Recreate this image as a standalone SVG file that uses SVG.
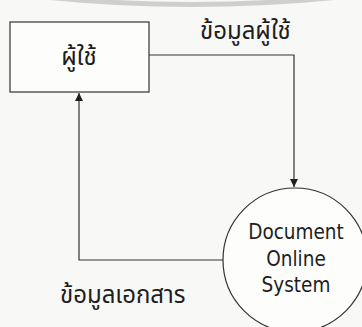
<svg xmlns="http://www.w3.org/2000/svg" width="362" height="327" viewBox="0 0 362 327">
<style>
.bg{fill:#f8f8f6}
.shape{fill:#fdfdfc;stroke:#333;stroke-width:1.2}
.conn{fill:none;stroke:#333;stroke-width:1.2}
.th{font-family:"Noto Sans Thai","Noto Sans","DejaVu Sans",sans-serif;fill:#1e1e1e;font-size:24px}
.en{font-family:"DejaVu Sans Condensed","DejaVu Sans",sans-serif;font-size:20.5px;fill:#1e1e1e;text-anchor:middle}
</style>
<defs>
<marker id="arr" viewBox="0 0 10 10" refX="10" refY="5" markerWidth="8" markerHeight="12" markerUnits="userSpaceOnUse" orient="auto">
<path d="M0,0 L10,5 L0,10 Z" fill="#1e1e1e"/>
</marker>
</defs>
<rect class="bg" x="0" y="0" width="362" height="327"/>
<path d="M 45 -3 Q 190 12 340 -3" fill="none" stroke="#cfcfcf" stroke-width="5"/>
<g id="connectors">
<path class="conn" d="M 149 55 H 294 V 187" marker-end="url(#arr)"/>
<path class="conn" d="M 223 260 H 79 V 93" marker-end="url(#arr)"/>
<text class="th" x="200" y="39">ข้อมูลผู้ใช้</text>
<text class="th" x="60" y="303">ข้อมูลเอกสาร</text>
</g>
<g id="user">
<rect class="shape" x="10" y="22" width="139" height="70"/>
<text class="th" x="79" y="65" text-anchor="middle">ผู้ใช้</text>
</g>
<g id="system">
<circle class="shape" cx="295" cy="260" r="72"/>
<text class="en" x="296" y="239">Document</text>
<text class="en" x="296" y="266">Online</text>
<text class="en" x="296" y="292">System</text>
</g>
</svg>
